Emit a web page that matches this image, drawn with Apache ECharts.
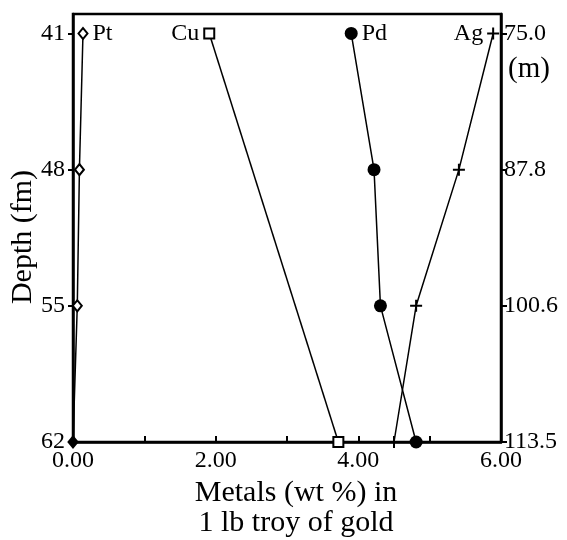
<!DOCTYPE html>
<html>
<head>
<meta charset="utf-8">
<script src="https://cdn.jsdelivr.net/npm/echarts@6/dist/echarts.min.js"></script>
<style>
  html, body { margin: 0; padding: 0; background: #fff; }
  #chart { width: 567px; height: 540px; }
</style>
</head>
<body>
<div id="chart"></div>
<script>
// 深度（英寻）和对应的米
const depthFm = [41, 48, 55, 62]
const depthM = ['75.0', '87.8', '100.6', '113.5']
const xTicks = [0, 2, 4, 6]

// 各金属含量 wt %
const ptDepth = [41, 48, 55, 62]
const pt = [0.14, 0.09, 0.06, 0.0]
const cuDepth = [41, 62]
const cu = [1.91, 3.72]
const pdDepth = [41, 48, 55, 62]
const pd = [3.9, 4.22, 4.31, 4.81]
const agDepth = [41, 48, 55, 62]
const ag = [5.89, 5.41, 4.81, 4.5]

const font = 'Liberation Serif'
const plus = 'path://M5,0H7V5H12V7H7V12H5V7H0V5H5Z'

// 第一个点加标签
const makeData = (vals, depths, name, pos) => vals.map((v, i) => {
  const item = { value: [v, depths[i]] }
  if (i === 0) {
    item.label = {
      show: true,
      formatter: name,
      position: pos,
      distance: 4,
      color: '#000',
      fontFamily: font,
      fontSize: 24
    }
  }
  return item
})

const lineSeries = (vals, depths, name, symbol, size, filled, pos) => ({
  name,
  type: 'line',
  data: makeData(vals, depths, name, pos),
  symbol,
  symbolSize: size,
  showAllSymbol: true,
  lineStyle: { color: '#000', width: 1.5 },
  itemStyle: {
    color: filled ? '#000' : '#fff',
    borderColor: '#000',
    borderWidth: filled ? 0 : 2
  },
  emphasis: { disabled: true },
  z: 3
})

const chart = echarts.init(document.getElementById('chart'))

const ptSeries = lineSeries(pt, ptDepth, 'Pt', 'diamond', [9, 11], false, 'right')
// 底部那个点在轴上，画成实心
ptSeries.data[ptSeries.data.length - 1].itemStyle = { color: '#000' }

const option = {
  animation: false,
  backgroundColor: '#fff',
  grid: {
    left: 73,
    right: 66,
    top: 14,
    bottom: 98,
    outerBoundsMode: 'none',
    show: true,
    borderColor: '#000',
    borderWidth: 2.5
  },
  xAxis: {
    type: 'value',
    min: 0,
    max: 6,
    interval: 1,
    name: 'Metals (wt %) in\n1 lb troy of gold',
    nameLocation: 'middle',
    nameGap: 34,
    nameTextStyle: {
      color: '#000',
      fontFamily: font,
      fontSize: 30,
      lineHeight: 30,
      padding: [0, 0, 0, 18],
      verticalAlign: 'top'
    },
    splitLine: { show: false },
    axisLine: { lineStyle: { color: '#000', width: 2.5 } },
    axisTick: { inside: true, length: 6, lineStyle: { color: '#000', width: 2 } },
    axisLabel: {
      customValues: xTicks,
      formatter: v => v.toFixed(2),
      color: '#000',
      fontFamily: font,
      fontSize: 24,
      margin: 7
    }
  },
  yAxis: [
    {
      type: 'value',
      min: 40,
      max: 62,
      inverse: true,
      name: 'Depth (fm)',
      nameLocation: 'middle',
      nameMoveOverlap: false,
      nameGap: 35,
      nameTextStyle: {
        color: '#000',
        fontFamily: font,
        fontSize: 30,
        padding: [0, 18, 0, 0]
      },
      splitLine: { show: false },
      axisLine: { lineStyle: { color: '#000', width: 2.5 } },
      axisTick: { customValues: depthFm, length: 5, lineStyle: { color: '#000', width: 2 } },
      axisLabel: {
        customValues: depthFm,
        color: '#000',
        fontFamily: font,
        fontSize: 24,
        margin: 8
      }
    },
    {
      type: 'value',
      min: 40,
      max: 62,
      inverse: true,
      position: 'right',
      splitLine: { show: false },
      axisLine: { show: true, lineStyle: { color: '#000', width: 2.5 } },
      axisTick: { customValues: depthFm, length: 6, lineStyle: { color: '#000', width: 2 } },
      axisLabel: {
        customValues: depthFm,
        formatter: v => depthM[depthFm.indexOf(v)],
        color: '#000',
        fontFamily: font,
        fontSize: 24,
        margin: 3
      }
    }
  ],
  graphic: [
    {
      type: 'text',
      left: 508,
      top: 55,
      style: { text: '(m)', fill: '#000', font: '29px "Liberation Serif"' }
    }
  ],
  series: [
    ptSeries,
    lineSeries(cu, cuDepth, 'Cu', 'rect', 10, false, 'left'),
    lineSeries(pd, pdDepth, 'Pd', 'circle', 13, true, 'right'),
    lineSeries(ag, agDepth, 'Ag', plus, 12, true, 'left')
  ]
}

option && chart.setOption(option)
</script>
</body>
</html>
